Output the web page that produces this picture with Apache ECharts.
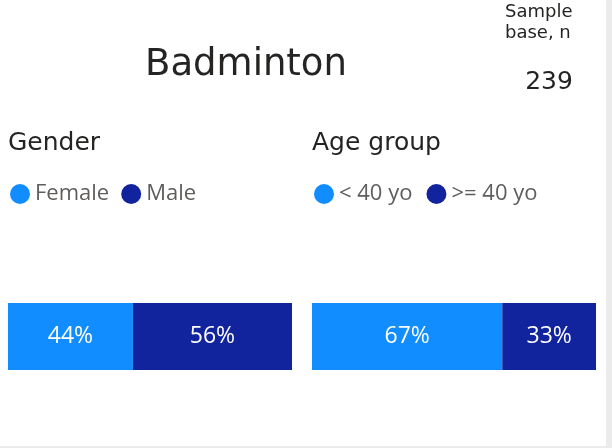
<!DOCTYPE html>
<html><head><meta charset="utf-8">
<script src="https://cdn.jsdelivr.net/npm/echarts@6/dist/echarts.min.js"></script>
<style>html,body{margin:0;padding:0;background:#fff;}#c{width:612px;height:448px;}</style>
</head><body><div id="c"></div>
<script>
const chartTitle = 'Badminton';
const sampleLabel = 'Sample\nbase, n';
const sampleN = 239;
const genderTitle = 'Gender';
const genderNames = ['Female', 'Male'];
const genderValues = [44, 56];
const ageTitle = 'Age group';
const ageNames = ['< 40 yo', '>= 40 yo'];
const ageValues = [67, 33];
const colors = ['#118DFF', '#12239E'];

const chart = echarts.init(document.getElementById('c'));
const titleFont = '"DejaVu Sans", sans-serif';
const bodyFont = '"Open Sans", "Noto Sans", sans-serif';

function barSeries(names, values, axisIdx) {
  return names.map((n, i) => ({
    name: n, type: 'bar', stack: 's' + axisIdx,
    xAxisIndex: axisIdx, yAxisIndex: axisIdx,
    barWidth: '100%', data: [values[i]],
    itemStyle: { color: colors[i] },
    label: { show: true, position: 'inside', formatter: '{c}%', color: '#fff', fontSize: 23, fontFamily: bodyFont }
  }));
}

chart.setOption({
  animation: false,
  color: colors,
  title: [
    { text: chartTitle, left: 246, top: 47, padding: 0, textAlign: 'center', textStyle: { fontSize: 37, fontWeight: 'normal', color: '#252423', fontFamily: titleFont } },
    { text: sampleLabel, left: 505, top: 2, padding: 0, textStyle: { fontSize: 18, fontWeight: 'normal', color: '#252423', lineHeight: 21, fontFamily: titleFont } },
    { text: String(sampleN), left: 549, top: 70, padding: 0, textAlign: 'center', textStyle: { fontSize: 25, fontWeight: 'normal', color: '#252423', fontFamily: titleFont } },
    { text: genderTitle, left: 8, top: 131, padding: 0, textStyle: { fontSize: 25, fontWeight: 'normal', color: '#252423', fontFamily: titleFont } },
    { text: ageTitle, left: 312, top: 131, padding: 0, textStyle: { fontSize: 25, fontWeight: 'normal', color: '#252423', fontFamily: titleFont } }
  ],
  legend: [
    { data: genderNames, left: 10, top: 183, padding: 0, icon: 'circle', itemWidth: 20, itemHeight: 20, itemGap: 12, textStyle: { fontSize: 22, color: '#605E5C', fontFamily: bodyFont } },
    { data: ageNames, left: 314, top: 183, padding: 0, icon: 'circle', itemWidth: 20, itemHeight: 20, itemGap: 14, textStyle: { fontSize: 22, color: '#605E5C', fontFamily: bodyFont } }
  ],
  grid: [
    { left: 8, top: 303, width: 284, height: 67 },
    { left: 312, top: 303, width: 284, height: 67 }
  ],
  xAxis: [0, 1].map(i => ({ type: 'value', gridIndex: i, min: 0, max: 100, show: false })),
  yAxis: [0, 1].map(i => ({ type: 'category', gridIndex: i, data: [''], show: false })),
  series: [...barSeries(genderNames, genderValues, 0), ...barSeries(ageNames, ageValues, 1)],
  graphic: [
    { type: 'rect', shape: { x: 606, y: 0, width: 6, height: 448 }, style: { fill: '#EBEBEB' }, silent: true },
    { type: 'rect', shape: { x: 0, y: 446, width: 612, height: 2 }, style: { fill: '#EBEBEB' }, silent: true }
  ]
});
</script></body></html>
